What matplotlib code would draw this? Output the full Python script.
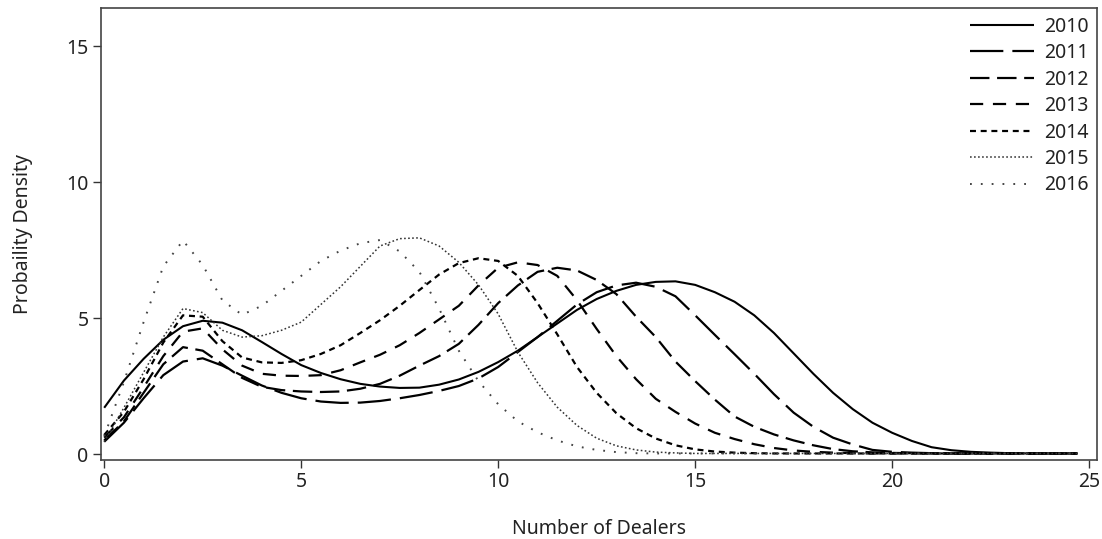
import matplotlib
matplotlib.use("Agg")
import matplotlib.pyplot as plt

plt.rcParams['font.family'] = ['Noto Sans', 'DejaVu Sans']
plt.rcParams['lines.scale_dashes'] = False

# number of dealers (x positions)
dealers = [0, 0.5, 1, 1.5, 2, 2.5, 3, 3.5, 4, 4.5,
           5, 5.5, 6, 6.5, 7, 7.5, 8, 8.5, 9, 9.5,
           10, 10.5, 11, 11.5, 12, 12.5, 13, 13.5, 14, 14.5,
           15, 15.5, 16, 16.5, 17, 17.5, 18, 18.5, 19, 19.5,
           20, 20.5, 21, 21.5, 22, 22.5, 23, 23.5, 24, 24.5, 24.7]

d2010 = [1.70, 2.70, 3.50, 4.20, 4.70, 4.90, 4.83, 4.55, 4.12, 3.68,
         3.27, 2.98, 2.75, 2.58, 2.48, 2.43, 2.44, 2.55, 2.74, 3.02,
         3.38, 3.80, 4.30, 4.80, 5.30, 5.70, 6.00, 6.22, 6.33, 6.35,
         6.22, 5.95, 5.60, 5.10, 4.45, 3.70, 2.95, 2.25, 1.65, 1.15,
         0.78, 0.48, 0.25, 0.14, 0.08, 0.05, 0.03, 0.02, 0.02, 0.02, 0.02]
d2011 = [0.45, 1.15, 2.05, 2.90, 3.40, 3.52, 3.25, 2.88, 2.52, 2.25,
         2.05, 1.93, 1.88, 1.89, 1.95, 2.05, 2.17, 2.32, 2.50, 2.78,
         3.20, 3.75, 4.30, 4.90, 5.50, 5.95, 6.20, 6.30, 6.15, 5.80,
         5.10, 4.38, 3.67, 2.95, 2.20, 1.52, 1.00, 0.60, 0.35, 0.15,
         0.08, 0.05, 0.03, 0.02, 0.02, 0.02, 0.02, 0.02, 0.02, 0.02, 0.02]
d2012 = [0.50, 1.20, 2.25, 3.30, 3.93, 3.80, 3.30, 2.80, 2.47, 2.35,
         2.30, 2.28, 2.30, 2.40, 2.58, 2.88, 3.25, 3.60, 4.05, 4.75,
         5.55, 6.20, 6.70, 6.85, 6.75, 6.40, 5.88, 5.05, 4.30, 3.40,
         2.68, 2.00, 1.38, 1.00, 0.72, 0.50, 0.32, 0.18, 0.10, 0.06,
         0.04, 0.03, 0.02, 0.02, 0.02, 0.02, 0.02, 0.02, 0.02, 0.02, 0.02]
d2013 = [0.60, 1.35, 2.45, 3.60, 4.50, 4.62, 3.85, 3.25, 2.95, 2.88,
         2.87, 2.90, 3.08, 3.37, 3.65, 4.00, 4.45, 4.95, 5.45, 6.20,
         6.85, 7.05, 6.95, 6.55, 5.66, 4.60, 3.60, 2.75, 2.03, 1.55,
         1.12, 0.78, 0.55, 0.36, 0.22, 0.13, 0.08, 0.05, 0.03, 0.02,
         0.02, 0.02, 0.02, 0.02, 0.02, 0.02, 0.02, 0.02, 0.02, 0.02, 0.02]
d2014 = [0.70, 1.55, 2.75, 4.10, 5.10, 5.05, 4.15, 3.55, 3.37, 3.35,
         3.45, 3.68, 4.00, 4.45, 4.92, 5.45, 6.03, 6.60, 7.02, 7.20,
         7.10, 6.55, 5.55, 4.40, 3.20, 2.25, 1.50, 0.95, 0.57, 0.32,
         0.17, 0.09, 0.05, 0.03, 0.02, 0.02, 0.02, 0.02, 0.02, 0.02,
         0.02, 0.02, 0.02, 0.02, 0.02, 0.02, 0.02, 0.02, 0.02, 0.02, 0.02]
d2015 = [0.45, 1.70, 3.00, 4.30, 5.35, 5.20, 4.55, 4.30, 4.35, 4.55,
         4.85, 5.50, 6.15, 6.90, 7.65, 7.92, 7.95, 7.65, 7.05, 6.22,
         5.15, 3.75, 2.62, 1.72, 1.05, 0.58, 0.30, 0.15, 0.07, 0.04,
         0.02, 0.02, 0.02, 0.02, 0.02, 0.02, 0.02, 0.02, 0.02, 0.02,
         0.02, 0.02, 0.02, 0.02, 0.02, 0.02, 0.02, 0.02, 0.02, 0.02, 0.02]
d2016 = [0.65, 2.65, 4.85, 6.90, 7.85, 6.95, 5.65, 5.12, 5.45, 6.00,
         6.55, 7.10, 7.48, 7.75, 7.87, 7.45, 6.70, 5.35, 3.80, 2.68,
         1.83, 1.20, 0.80, 0.50, 0.28, 0.15, 0.07, 0.03, 0.02, 0.02,
         0.02, 0.02, 0.02, 0.02, 0.02, 0.02, 0.02, 0.02, 0.02, 0.02,
         0.02, 0.02, 0.02, 0.02, 0.02, 0.02, 0.02, 0.02, 0.02, 0.02, 0.02]

years = ['2010', '2011', '2012', '2013', '2014', '2015', '2016']
series = [d2010, d2011, d2012, d2013, d2014, d2015, d2016]

# line styles: (linewidth, dash pattern in points, colour)
styles = [
    (1.5, None, '#000000'),
    (1.6, (24, 6.5), '#000000'),
    (1.6, (14, 5.5), '#000000'),
    (1.6, (9.5, 7), '#000000'),
    (1.6, (4.3, 3.4), '#000000'),
    (1.1, (1.2, 1.7), '#333333'),
    (1.4, (1.3, 6.5), '#444444'),
]

fig = plt.figure(figsize=(11.02, 5.39), dpi=100)
ax = fig.add_axes((0.0917, 0.1466, 0.9038, 0.8384))

for year, vals, (lw, dash, col) in zip(years, series, styles):
    line, = ax.plot(dealers, vals, color=col, lw=lw, label=year,
                    solid_capstyle='butt', dash_capstyle='butt')
    if dash is not None:
        line.set_dashes(dash)

ax.set_xlim(-0.08, 25.2)
ax.set_ylim(-0.22, 16.4)
ax.set_xticks([0, 5, 10, 15, 20, 25])
ax.set_yticks([0, 5, 10, 15])
ax.tick_params(direction='out', length=6, width=1, colors='#333333',
               labelsize=14, labelcolor='#222222', pad=3)
for sp in ax.spines.values():
    sp.set_color('#444444')
    sp.set_linewidth(1.2)

ax.set_xlabel('Number of Dealers', fontsize=14, color='#222222', labelpad=19)
ax.set_ylabel('Probaility Density', fontsize=14, color='#222222', labelpad=24)

leg = ax.legend(loc='upper right', frameon=False, fontsize=14,
                handlelength=3.3, handletextpad=0.5, labelspacing=0.33,
                borderaxespad=0.05)
for t in leg.get_texts():
    t.set_color('#222222')

fig.savefig('out.png', dpi=100)
